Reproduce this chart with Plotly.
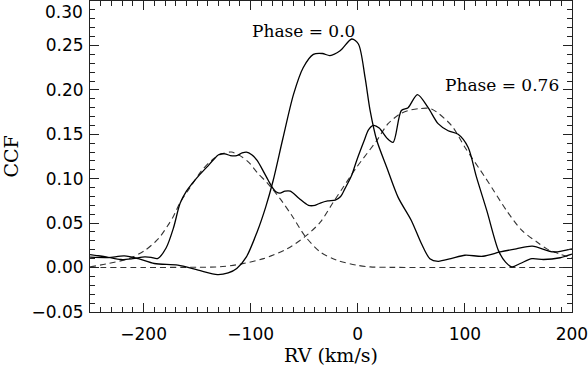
import plotly.graph_objects as go

# Observed CCF, phase 0.0
rv_ph0 = [-250, -233, -218, -205, -190, -168, -149, -131, -121, -113, -104, -94, -86, -79, -70, -60, -51, -41.5, -33, -26, -16.5, -5.6, 0.6, 6.8, 11.5, 17.8, 27, 37.7, 50, 59.4, 67.3, 75, 87, 100, 117, 133, 148, 163, 183, 200]
ccf_ph0 = [0.0116, 0.0112, 0.013, 0.010, 0.0045, 0.0026, -0.003, -0.008, -0.006, -0.001, 0.012, 0.040, 0.068, 0.098, 0.145, 0.195, 0.225, 0.240, 0.241, 0.2386, 0.244, 0.2573, 0.2517, 0.214, 0.177, 0.143, 0.113, 0.079, 0.053, 0.027, 0.010, 0.007, 0.010, 0.0138, 0.0127, 0.0175, 0.021, 0.024, 0.0175, 0.021]

# Observed CCF, phase 0.76
rv_ph76 = [-250, -235, -221, -210, -199, -193, -187, -179, -172, -166, -160, -155, -148, -141, -135, -130, -124, -119, -113, -108, -104, -99, -94, -88, -83.5, -80, -76, -72.6, -68, -63, -55, -46, -40, -35, -28, -21, -16, -12, -6, -1, 6, 10, 14.6, 20, 27, 33, 40.7, 47, 55.7, 65.7, 75, 84.4, 93.7, 103, 110.8, 120.5, 131.4, 138, 143.9, 151.7, 162.6, 173.5, 189, 200]
ccf_ph76 = [0.0146, 0.012, 0.009, 0.010, 0.012, 0.0115, 0.010, 0.022, 0.045, 0.072, 0.086, 0.094, 0.104, 0.113, 0.121, 0.127, 0.128, 0.126, 0.126, 0.129, 0.130, 0.127, 0.1206, 0.108, 0.098, 0.0906, 0.085, 0.0838, 0.086, 0.086, 0.078, 0.070, 0.070, 0.0726, 0.075, 0.076, 0.080, 0.0888, 0.103, 0.1206, 0.143, 0.155, 0.160, 0.157, 0.146, 0.141, 0.1768, 0.180, 0.1947, 0.180, 0.162, 0.154, 0.150, 0.1355, 0.102, 0.064, 0.019, 0.006, 0.0007, 0.0045, 0.010, 0.009, 0.011, 0.015]

# Fitted component 1 (dashed)
rv_fit1 = [-250, -233, -214, -199, -189, -185, -177, -172, -166, -156.7, -145.8, -136.5, -127, -118, -110, -102, -93, -85, -72.6, -61.7, -49, -35, -19.6, -1, 11.5, 30, 60, 100, 150, 200]
ccf_fit1 = [0.0007, 0.0045, 0.010, 0.019, 0.029, 0.034, 0.048, 0.058, 0.073, 0.090, 0.109, 0.1206, 0.128, 0.130, 0.126, 0.1187, 0.1056, 0.096, 0.0775, 0.0588, 0.035, 0.0175, 0.0082, 0.0026, 0.0007, 0.0002, 0.0, 0.0, 0.0, 0.0]

# Fitted component 2 (dashed)
rv_fit2 = [-250, -200, -150, -128.7, -110, -88, -66, -49, -35, -22.8, -13.5, -1, 17.8, 28.3, 39.5, 47, 58, 68.8, 87.5, 100, 118.7, 126.7, 139, 153, 167, 176.6, 189, 200]
ccf_fit2 = [0.0, 0.0, 0.0003, 0.0008, 0.0037, 0.010, 0.021, 0.035, 0.051, 0.0737, 0.0906, 0.113, 0.143, 0.162, 0.173, 0.1767, 0.179, 0.1786, 0.160, 0.1355, 0.102, 0.087, 0.064, 0.042, 0.029, 0.021, 0.015, 0.011]

x_ticks = [-200, -100, 0, 100, 200]
y_ticks = [-0.05, 0.0, 0.05, 0.10, 0.15, 0.20, 0.25, 0.30]

labels = ["Phase = 0.0", "Phase = 0.76"]
label_x = [-51, 135]
label_y = [0.2665, 0.206]

fig = go.Figure()
for xs, ys in [(rv_fit1, ccf_fit1), (rv_fit2, ccf_fit2)]:
    fig.add_trace(go.Scatter(x=xs, y=ys, mode="lines",
                             line=dict(color="#333333", width=1.1, dash="6px,4px", shape="spline", smoothing=0.8),
                             showlegend=False, hoverinfo="skip"))
for xs, ys in [(rv_ph0, ccf_ph0), (rv_ph76, ccf_ph76)]:
    fig.add_trace(go.Scatter(x=xs, y=ys, mode="lines",
                             line=dict(color="black", width=1.3, shape="spline", smoothing=0.8),
                             showlegend=False, hoverinfo="skip"))

for t, x, y in zip(labels, label_x, label_y):
    fig.add_annotation(x=x, y=y, text=t, showarrow=False, xanchor="center", yanchor="middle",
                       font=dict(family="DejaVu Serif", size=17, color="black"))

# top y tick label, nudged down so it stays inside the page (as in the original)
fig.add_annotation(x=0, xref="paper", y=y_ticks[-1], yref="y", text=f"{y_ticks[-1]:.2f}",
                   showarrow=False, xanchor="right", yanchor="top", xshift=-5, yshift=1,
                   font=dict(family="DejaVu Sans", size=17, color="black"))

axis_common = dict(showgrid=False, zeroline=False, showline=True, linecolor="#222222", linewidth=1,
                   mirror="allticks", ticks="inside", tickcolor="#222222", ticklen=9, tickwidth=1,
                   automargin=False, ticklabeloverflow="allow",
                   tickfont=dict(family="DejaVu Sans", size=17, color="black"))

fig.update_xaxes(range=[-250.05, 200.05], tickmode="array", tickvals=x_ticks,
                 ticktext=[str(v).replace("-", "\u2212") for v in x_ticks], ticklabelstandoff=7,
                 minor=dict(dtick=10, tick0=0, ticklen=5, ticks="inside", tickwidth=1, tickcolor="#222222", showgrid=False),
                 title=dict(text="RV (km/s)", font=dict(family="DejaVu Serif", size=19, color="black"), standoff=3),
                 **axis_common)
fig.update_yaxes(range=[-0.0501, 0.3001], tickmode="array", tickvals=y_ticks,
                 ticktext=[f"{v:.2f}".replace("-", "\u2212") for v in y_ticks[:-1]] + [""],
                 ticklabelstandoff=2,
                 minor=dict(dtick=0.01, tick0=0, ticklen=5, ticks="inside", tickwidth=1, tickcolor="#222222", showgrid=False),
                 title=dict(text="CCF", font=dict(family="DejaVu Serif", size=19, color="black"), standoff=17),
                 **axis_common)

fig.update_layout(width=588, height=367, margin=dict(l=90, r=16, t=1, b=55),
                  paper_bgcolor="white", plot_bgcolor="white")

fig.write_html("out.html", config={"displayModeBar": False},
               post_script="document.body.style.margin='0';document.body.style.overflow='hidden';")
